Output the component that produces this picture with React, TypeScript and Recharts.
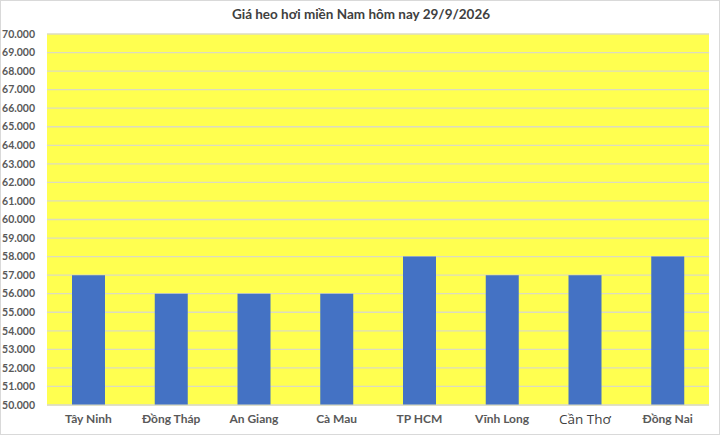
import React from 'react';
import { BarChart, Bar, XAxis, YAxis, CartesianGrid } from 'recharts';

const provinces = ['Tây Ninh', 'Đồng Tháp', 'An Giang', 'Cà Mau', 'TP HCM', 'Vĩnh Long', 'Cần Thơ', 'Đồng Nai'];
const prices = [57000, 56000, 56000, 56000, 58000, 57000, 57000, 58000];
const yTicks = [
  50000, 51000, 52000, 53000, 54000, 55000, 56000, 57000, 58000, 59000, 60000,
  61000, 62000, 63000, 64000, 65000, 66000, 67000, 68000, 69000, 70000,
];

const data = provinces.map((name, i) => ({ name, price: prices[i] }));

const fmt = (v: number) => (v / 1000).toFixed(3);

const XTick = (props: any) => {
  const { x, y, payload } = props;
  const odd = payload.value === 'Cần Thơ';
  return (
    <text
      x={x}
      y={y}
      dy={odd ? 11 : 10}
      textAnchor="middle"
      fill={odd ? '#404040' : '#595959'}
      fontFamily={odd ? 'Open Sans' : 'Lato'}
      fontWeight={odd ? 400 : 700}
      fontSize={odd ? 13.5 : 12}
    >
      {payload.value}
    </text>
  );
};

export default function App() {
  return (
    <div style={{ position: 'absolute', left: 0, top: 0, width: 720, height: 435, background: '#fff', boxSizing: 'border-box', border: '1px solid #d9d9d9' }}>
      <div
        style={{
          position: 'absolute',
          top: 5,
          left: 0,
          width: 720,
          textAlign: 'center',
          fontFamily: 'Lato',
          fontWeight: 700,
          fontSize: 13.5,
          color: '#404040',
        }}
      >
        Giá heo hơi miền Nam hôm nay 29/9/2026
      </div>
      <BarChart
        width={718}
        height={433}
        data={data}
        barSize={33}
        margin={{ top: 33, right: 10, left: 0, bottom: 0 }}
      >
        <CartesianGrid vertical={false} stroke="#dcdcc0" strokeWidth={1.3} fill="#FFFF50" fillOpacity={1} />
        <XAxis
          dataKey="name"
          height={29}
          axisLine={{ stroke: '#dcdcc0' }}
          tickLine={false}
          tick={<XTick />}
          interval={0}
        />
        <YAxis
          type="number"
          domain={[50000, 70000]}
          ticks={yTicks}
          interval={0}
          width={46}
          axisLine={false}
          tickLine={false}
          tickMargin={6}
          tickFormatter={fmt}
          tick={{ fill: '#595959', fontSize: 10.5, fontFamily: 'Lato', fontWeight: 700 }}
        />
        <Bar dataKey="price" fill="#4472C4" isAnimationActive={false} />
      </BarChart>
    </div>
  );
}
